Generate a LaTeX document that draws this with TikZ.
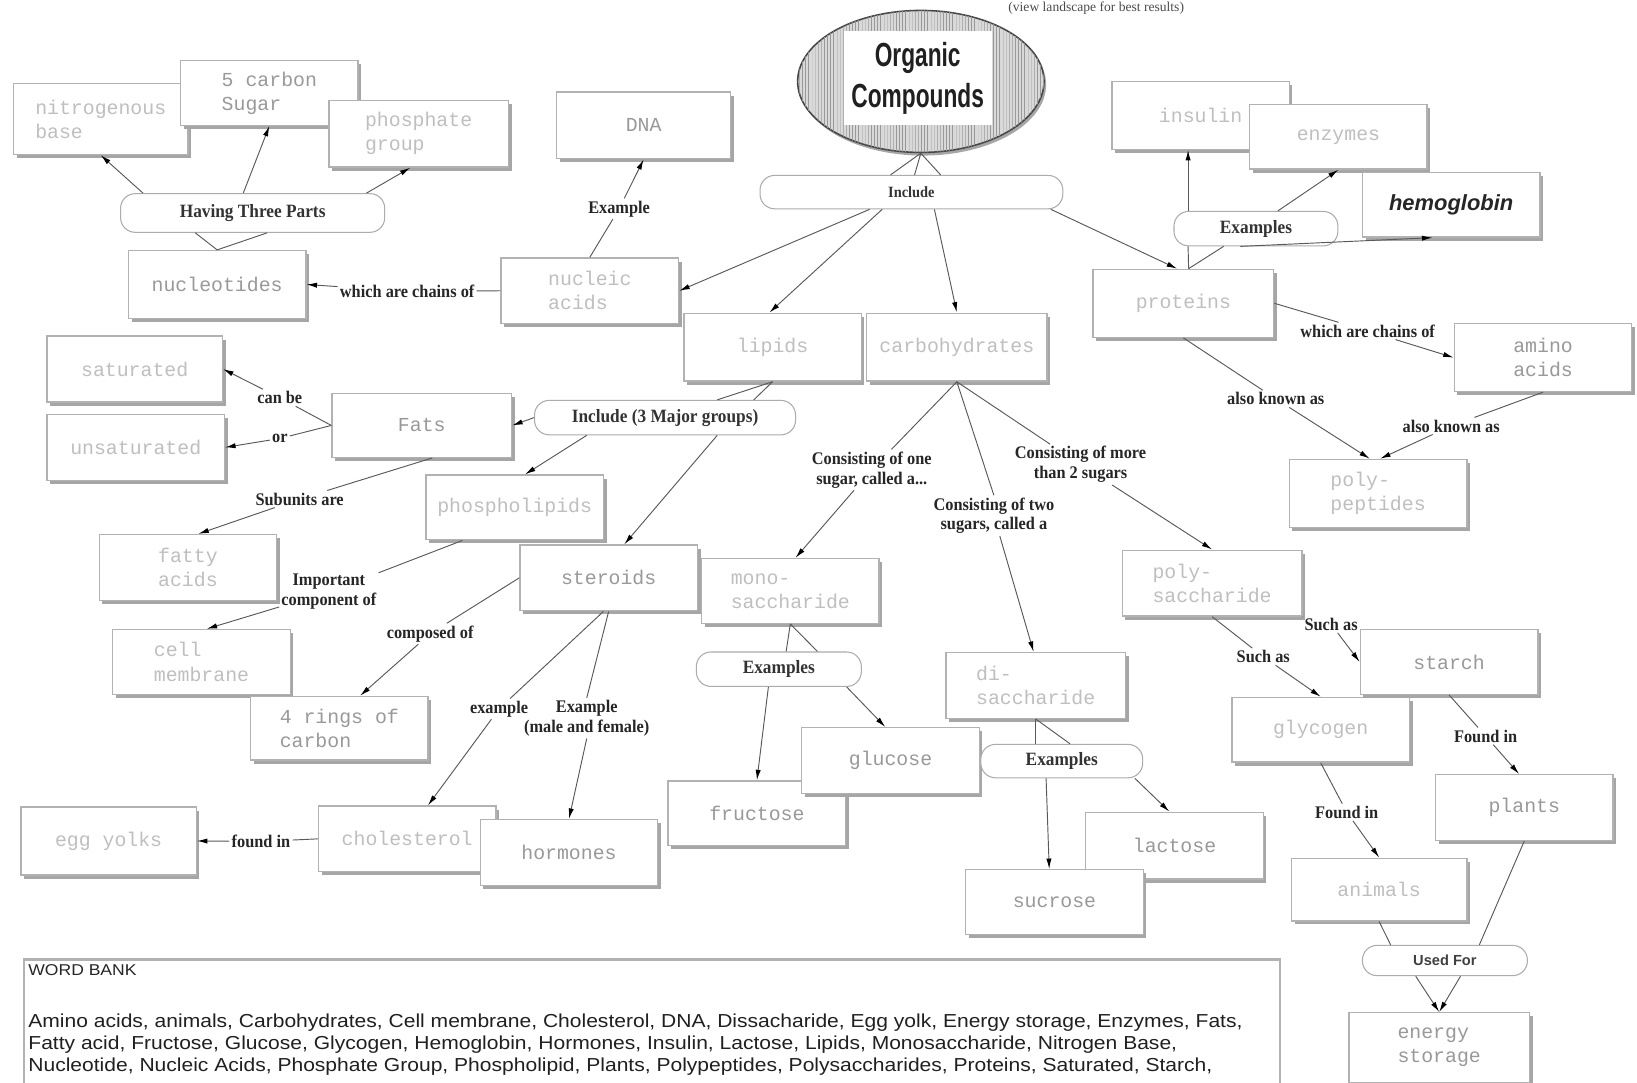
\documentclass[tikz,border=0pt]{standalone}
\usepackage{fontspec}
\setmainfont{Liberation Serif}
\newfontfamily\handf{Liberation Mono}
\newfontfamily\labf[FakeStretch=0.92]{Liberation Serif}
\newfontfamily\titlef[FakeStretch=0.68]{Liberation Sans}
\newfontfamily\wbf[FakeStretch=1.12]{Liberation Sans}
\newfontfamily\usedf{Liberation Sans}
\usetikzlibrary{arrows.meta,shadows,patterns,shapes.geometric}
\tikzset{
  cbox/.style={draw=gray!60, line width=1.3pt, fill=white,
    drop shadow={shadow xshift=3pt, shadow yshift=-3.5pt, fill=gray!70, opacity=1},
    align=left, inner sep=2pt, minimum width=170pt, minimum height=63pt,
    font=\handf\fontsize{19}{23}\selectfont, text=gray!50},
  dk/.style={text=gray!80},
  pill/.style={draw=gray!65, line width=1pt, fill=white, rounded corners=14pt,
    align=center, inner sep=1pt, font=\labf\bfseries\fontsize{18}{20}\selectfont, text=black!80},
  lab/.style={align=center, inner sep=2pt, font=\labf\bfseries\fontsize{17}{19}\selectfont, text=black!85},
  ln/.style={draw=gray!70!black, line width=0.9pt},
  arr/.style={ln, -{Latex[length=10pt,width=5pt,black]}},
}
\begin{document}
\begin{tikzpicture}[x=1pt,y=-1pt]
\useasboundingbox (0,0) rectangle (1568,1037);
\fill[white] (0,0) rectangle (1568,1037);

\node[font=\fontsize{13}{15}\selectfont, text=gray!60!black, inner sep=1pt] (hint) at (1050,8) {(view landscape for best results)};

% ---------- nucleic acids cluster
\node[cbox,minimum width=167pt,minimum height=68pt] (nitro) at (96.5,114) {nitrogenous\\base};
\node[cbox,dk,minimum height=62pt] (sugar) at (258,89) {5 carbon\\Sugar};
\node[cbox,minimum width=172pt,minimum height=64pt] (phos) at (401,128) {phosphate\\group};
\node[pill,minimum width=253pt,minimum height=37pt] (pHave) at (242,204) {Having Three Parts};
\node[cbox,dk,minimum height=65pt] (nucleo) at (208,272.5) {nucleotides};
\node[cbox] (nucacid) at (565,278.5) {nucleic\\acids};
\node[cbox,dk,minimum width=167pt,minimum height=64pt] (dna) at (616.5,120) {DNA};
\node[lab] (lEx) at (593,200) {Example};
\node[lab] (lChainN) at (390,279) {which are chains of};

% ---------- top
\node[ellipse, draw=gray!55!black, line width=1.5pt, minimum width=236pt, minimum height=136pt,
  fill=gray!30, postaction={pattern=vertical lines, pattern color=gray!80},
  drop shadow={shadow xshift=2pt, shadow yshift=-3pt, fill=gray!70, opacity=1}] (oc) at (882,78) {};
\node[fill=white, minimum width=142pt, minimum height=90pt, align=center,
  font=\titlef\bfseries\fontsize{32}{40}\selectfont, text=gray!25!black] (title) at (879,75) {Organic\\Compounds};
\node[pill, minimum width=290pt, minimum height=32pt, font=\labf\bfseries\fontsize{15}{17}\selectfont] (inc) at (873,184) {Include};

% ---------- main groups
\node[cbox,minimum height=65pt] (lipids) at (740,332.5) {lipids};
\node[cbox,minimum width=173pt,minimum height=65pt] (carbs) at (916.5,332.5) {carbohydrates};
\node[cbox,minimum width=173pt,minimum height=65pt] (proteins) at (1133.5,290.5) {proteins};

% ---------- proteins cluster
\node[cbox,minimum height=65pt] (insulin) at (1150,110.5) {insulin};
\node[cbox,minimum height=62pt] (enzymes) at (1282,131) {enzymes};
\node[cbox,minimum height=62pt,align=center,font=\usedf\bfseries\itshape\fontsize{21}{24}\selectfont,text=black!85] (hemo) at (1390,196) {hemoglobin};
\node[pill, minimum width=157pt, minimum height=33pt] (pEx3) at (1203,219) {Examples};
\node[lab] (lChainP) at (1310,317) {which are chains of};
\node[cbox,dk,minimum height=65pt] (amino) at (1478,342.5) {amino\\acids};
\node[lab] (lAka1) at (1222,382) {also known as};
\node[lab] (lAka2) at (1390,408) {also known as};
\node[cbox,minimum height=65pt] (polypep) at (1320,472.5) {poly-\\peptides};

% ---------- lipids cluster
\node[pill, minimum width=250pt, minimum height=33pt] (pLip) at (637,400) {Include (3 Major groups)};
\node[cbox,dk,minimum width=172pt,minimum height=61pt] (fats) at (404,407.5) {Fats};
\node[cbox,minimum width=168pt] (sat) at (129,353.5) {saturated};
\node[cbox] (unsat) at (130,428.5) {unsaturated};
\node[lab] (lCan) at (268,381) {can be};
\node[lab] (lOr) at (268,420) {or};
\node[cbox,minimum height=62pt] (phosph) at (493,486) {phospholipids};
\node[lab] (lSub) at (287,478) {Subunits are};
\node[cbox] (fatty) at (180,543.5) {fatty\\acids};
\node[lab] (lImp) at (315,567) {Important\\component of};
\node[cbox,minimum height=62pt] (cellm) at (193,634) {cell\\membrane};
\node[cbox,dk] (steroids) at (583,553.5) {steroids};
\node[lab] (lComp) at (412,607) {composed of};
\node[cbox,dk,minimum height=61pt] (rings) at (325,697.5) {4 rings of\\carbon};
\node[lab] (lExa) at (478,679) {example};
\node[lab] (lExH) at (562,688) {Example\\(male and female)};
\node[cbox] (chol) at (390,803.5) {cholesterol};
\node[cbox,dk] (horm) at (545,816.5) {hormones};
\node[cbox,minimum width=168pt,minimum height=65pt] (egg) at (104,805.5) {egg yolks};
\node[lab] (lFound) at (250,806) {found in};

% ---------- carbohydrates cluster
\node[lab] (lOne) at (835,450) {Consisting of one\\sugar, called a...};
\node[lab] (lTwo) at (952,494) {Consisting of two\\sugars, called a};
\node[lab] (lMore) at (1035,445) {Consisting of more\\than 2 sugars};
\node[cbox,minimum height=62pt] (mono) at (757,566) {mono-\\saccharide};
\node[pill,minimum width=158pt,minimum height=33pt] (pExM) at (746,641) {Examples};
\node[cbox,dk,minimum height=62pt] (fructose) at (725,779) {fructose};
\node[cbox,dk] (glucose) at (853,728.5) {glucose};
\node[cbox,minimum width=172pt] (di) at (992,656.5) {di-\\saccharide};
\node[pill,minimum width=155pt,minimum height=32pt] (pExD) at (1017,729) {Examples};
\node[cbox,dk,minimum height=64pt] (lactose) at (1125,810) {lactose};
\node[cbox,dk,minimum height=62pt] (sucrose) at (1010,864) {sucrose};
\node[cbox,minimum width=172pt] (polysac) at (1161,558.5) {poly-\\saccharide};
\node[lab] (lSuch1) at (1275,598) {Such as};
\node[lab] (lSuch2) at (1210,629) {Such as};
\node[cbox,minimum height=62pt] (glycogen) at (1265,699) {glycogen};
\node[cbox,dk,minimum height=62pt] (starch) at (1388,634) {starch};
\node[lab] (lFound1) at (1423,705) {Found in};
\node[lab] (lFound2) at (1290,778) {Found in};
\node[cbox,dk] (plants) at (1460,773.5) {plants};
\node[cbox,minimum width=168pt,minimum height=60pt] (animals) at (1321,852) {animals};
\node[pill,minimum width=158pt,minimum height=29pt,font=\usedf\bfseries\fontsize{14}{16}\selectfont,text=gray!50!black] (pUsed) at (1384,920) {Used For};
\node[cbox,dk,minimum width=173pt,minimum height=67pt] (energy) at (1378.5,1003.5) {energy\\storage};

% ---------- word bank
\node[draw=gray!60, line width=2pt, minimum width=1203pt, minimum height=150pt, anchor=north west, inner sep=0pt] (wb) at (22,918) {};
\node[anchor=west, inner sep=1pt, font=\wbf\fontsize{15}{17}\selectfont, text=gray!30!black] (wbt) at ([xshift=4pt,yshift=-11pt]wb.north west) {WORD BANK};
\node[anchor=north west, align=left, inner sep=1pt, font=\wbf\fontsize{18}{21}\selectfont, text=gray!25!black] (wbl) at ([xshift=4pt,yshift=-52pt]wb.north west)
 {Amino acids, animals, Carbohydrates, Cell membrane, Cholesterol, DNA, Dissacharide, Egg yolk, Energy storage, Enzymes, Fats,\\
  Fatty acid, Fructose, Glucose, Glycogen, Hemoglobin, Hormones, Insulin, Lactose, Lipids, Monosaccharide, Nitrogen Base,\\
  Nucleotide, Nucleic Acids, Phosphate Group, Phospholipid, Plants, Polypeptides, Polysaccharides, Proteins, Saturated, Starch,};

% ---------- connectors: top
\draw[ln] (oc.south) -- ([xshift=-20pt]inc.north);
\draw[ln] (oc.south) -- ([xshift=3pt]inc.north);
\draw[ln] (oc.south) -- ([xshift=28pt]inc.north);
\draw[arr] ([xshift=-40pt]inc.south) -- (nucacid.east);
\draw[arr] ([xshift=-28pt]inc.south) -- ([xshift=-3pt]lipids.north);
\draw[arr] ([xshift=22pt]inc.south) -- (carbs.north);
\draw[arr] ([xshift=-12pt]inc.south east) -- ([xshift=-6pt]proteins.north);

% nucleic acids
\draw[ln] (nucacid.north) -- (lEx);
\draw[arr] (lEx) -- (dna.south);
\draw[ln] (nucacid.west) -- (lChainN);
\draw[arr] (lChainN) -- (nucleo.east);
\draw[ln] (nucleo.north) -- ([xshift=-55pt]pHave.south);
\draw[ln] (nucleo.north) -- ([xshift=14pt]pHave.south);
\draw[arr] ([xshift=-105pt]pHave.north) -- (nitro.south);
\draw[arr] ([xshift=-9pt]pHave.north) -- (sugar.south);
\draw[arr] ([xshift=109pt]pHave.north) -- ([xshift=-8pt]phos.south);

% proteins
\draw[ln] ([xshift=5pt]proteins.north) -- ([xshift=-65pt]pEx3.south);
\draw[ln] ([xshift=5pt]proteins.north) -- ([xshift=-31pt]pEx3.south);
\draw[arr] ([xshift=-65pt]pEx3.north) -- ([xshift=-12pt]insulin.south);
\draw[arr] ([xshift=21pt]pEx3.north) -- (enzymes.south);
\draw[arr] ([xshift=-15pt]pEx3.south) -- ([xshift=-18pt]hemo.south);
\draw[ln] (proteins.east) -- (lChainP);
\draw[arr] (lChainP) -- (amino.west);
\draw[ln] (proteins.south) -- (lAka1);
\draw[arr] (lAka1) -- ([xshift=-8pt]polypep.north);
\draw[ln] (amino.south) -- (lAka2);
\draw[arr] (lAka2) -- ([xshift=2pt]polypep.north);

% lipids
\draw[ln] (lipids.south) -- ([xshift=50pt]pLip.north);
\draw[ln] (lipids.south) -- ([xshift=85pt]pLip.north);
\draw[arr] (pLip.west) -- (fats.east);
\draw[arr] ([xshift=-75pt]pLip.south) -- ([xshift=10pt]phosph.north);
\draw[arr] ([xshift=50pt]pLip.south) -- ([xshift=15pt]steroids.north);
\draw[ln] (fats.west) -- (lCan);
\draw[arr] (lCan) -- (sat.east);
\draw[ln] (fats.west) -- (lOr);
\draw[arr] (lOr) -- (unsat.east);
\draw[ln] ([xshift=10pt]fats.south) -- (lSub);
\draw[arr] (lSub) -- ([xshift=10pt]fatty.north);
\draw[ln] ([xshift=-50pt]phosph.south) -- (lImp);
\draw[arr] (lImp) -- ([xshift=5pt]cellm.north);
\draw[ln] (steroids.west) -- (lComp);
\draw[arr] (lComp) -- ([xshift=20pt]rings.north);
\draw[ln] ([xshift=-5pt]steroids.south) -- (lExa);
\draw[arr] (lExa) -- ([xshift=20pt]chol.north);
\draw[ln] (steroids.south) -- (lExH.north);
\draw[arr] (lExH.south) -- (horm.north);
\draw[ln] (chol.west) -- (lFound);
\draw[arr] (lFound) -- (egg.east);

% carbohydrates
\draw[ln] (carbs.south) -- (lOne);
\draw[arr] (lOne) -- ([xshift=5pt]mono.north);
\draw[ln] (carbs.south) -- (lTwo.north);
\draw[arr] (lTwo) -- ([xshift=-2pt]di.north);
\draw[ln] (carbs.south) -- (lMore);
\draw[arr] (lMore) -- (polysac.north);
\draw[ln] (mono.south) -- ([xshift=7pt]pExM.north);
\draw[ln] (mono.south) -- ([xshift=37pt]pExM.north);
\draw[arr] ([xshift=-10pt]pExM.south) -- (fructose.north);
\draw[arr] ([xshift=65pt]pExM.south) -- ([xshift=-5pt]glucose.north);
\draw[ln] (di.south) -- ([xshift=-25pt]pExD.north);
\draw[ln] (di.south) -- ([xshift=8pt]pExD.north);
\draw[arr] ([xshift=-15pt]pExD.south) -- ([xshift=-5pt]sucrose.north);
\draw[arr] ([xshift=70pt]pExD.south) -- ([xshift=-5pt]lactose.north);
\draw[ln] (polysac.south east) -- (lSuch1);
\draw[arr] (lSuch1) -- (starch.west);
\draw[ln] (polysac.south) -- (lSuch2);
\draw[arr] (lSuch2) -- (glycogen.north);
\draw[ln] (starch.south) -- (lFound1);
\draw[arr] (lFound1) -- ([xshift=-5pt]plants.north);
\draw[ln] (glycogen.south) -- (lFound2);
\draw[arr] (lFound2) -- (animals.north);
\draw[ln] (animals.south) -- ([xshift=-52pt]pUsed.north);
\draw[ln] (plants.south) -- ([xshift=33pt]pUsed.north);
\draw[arr] ([xshift=-28pt]pUsed.south) -- (energy.north);
\draw[arr] ([xshift=15pt]pUsed.south) -- (energy.north);
\end{tikzpicture}
\end{document}
